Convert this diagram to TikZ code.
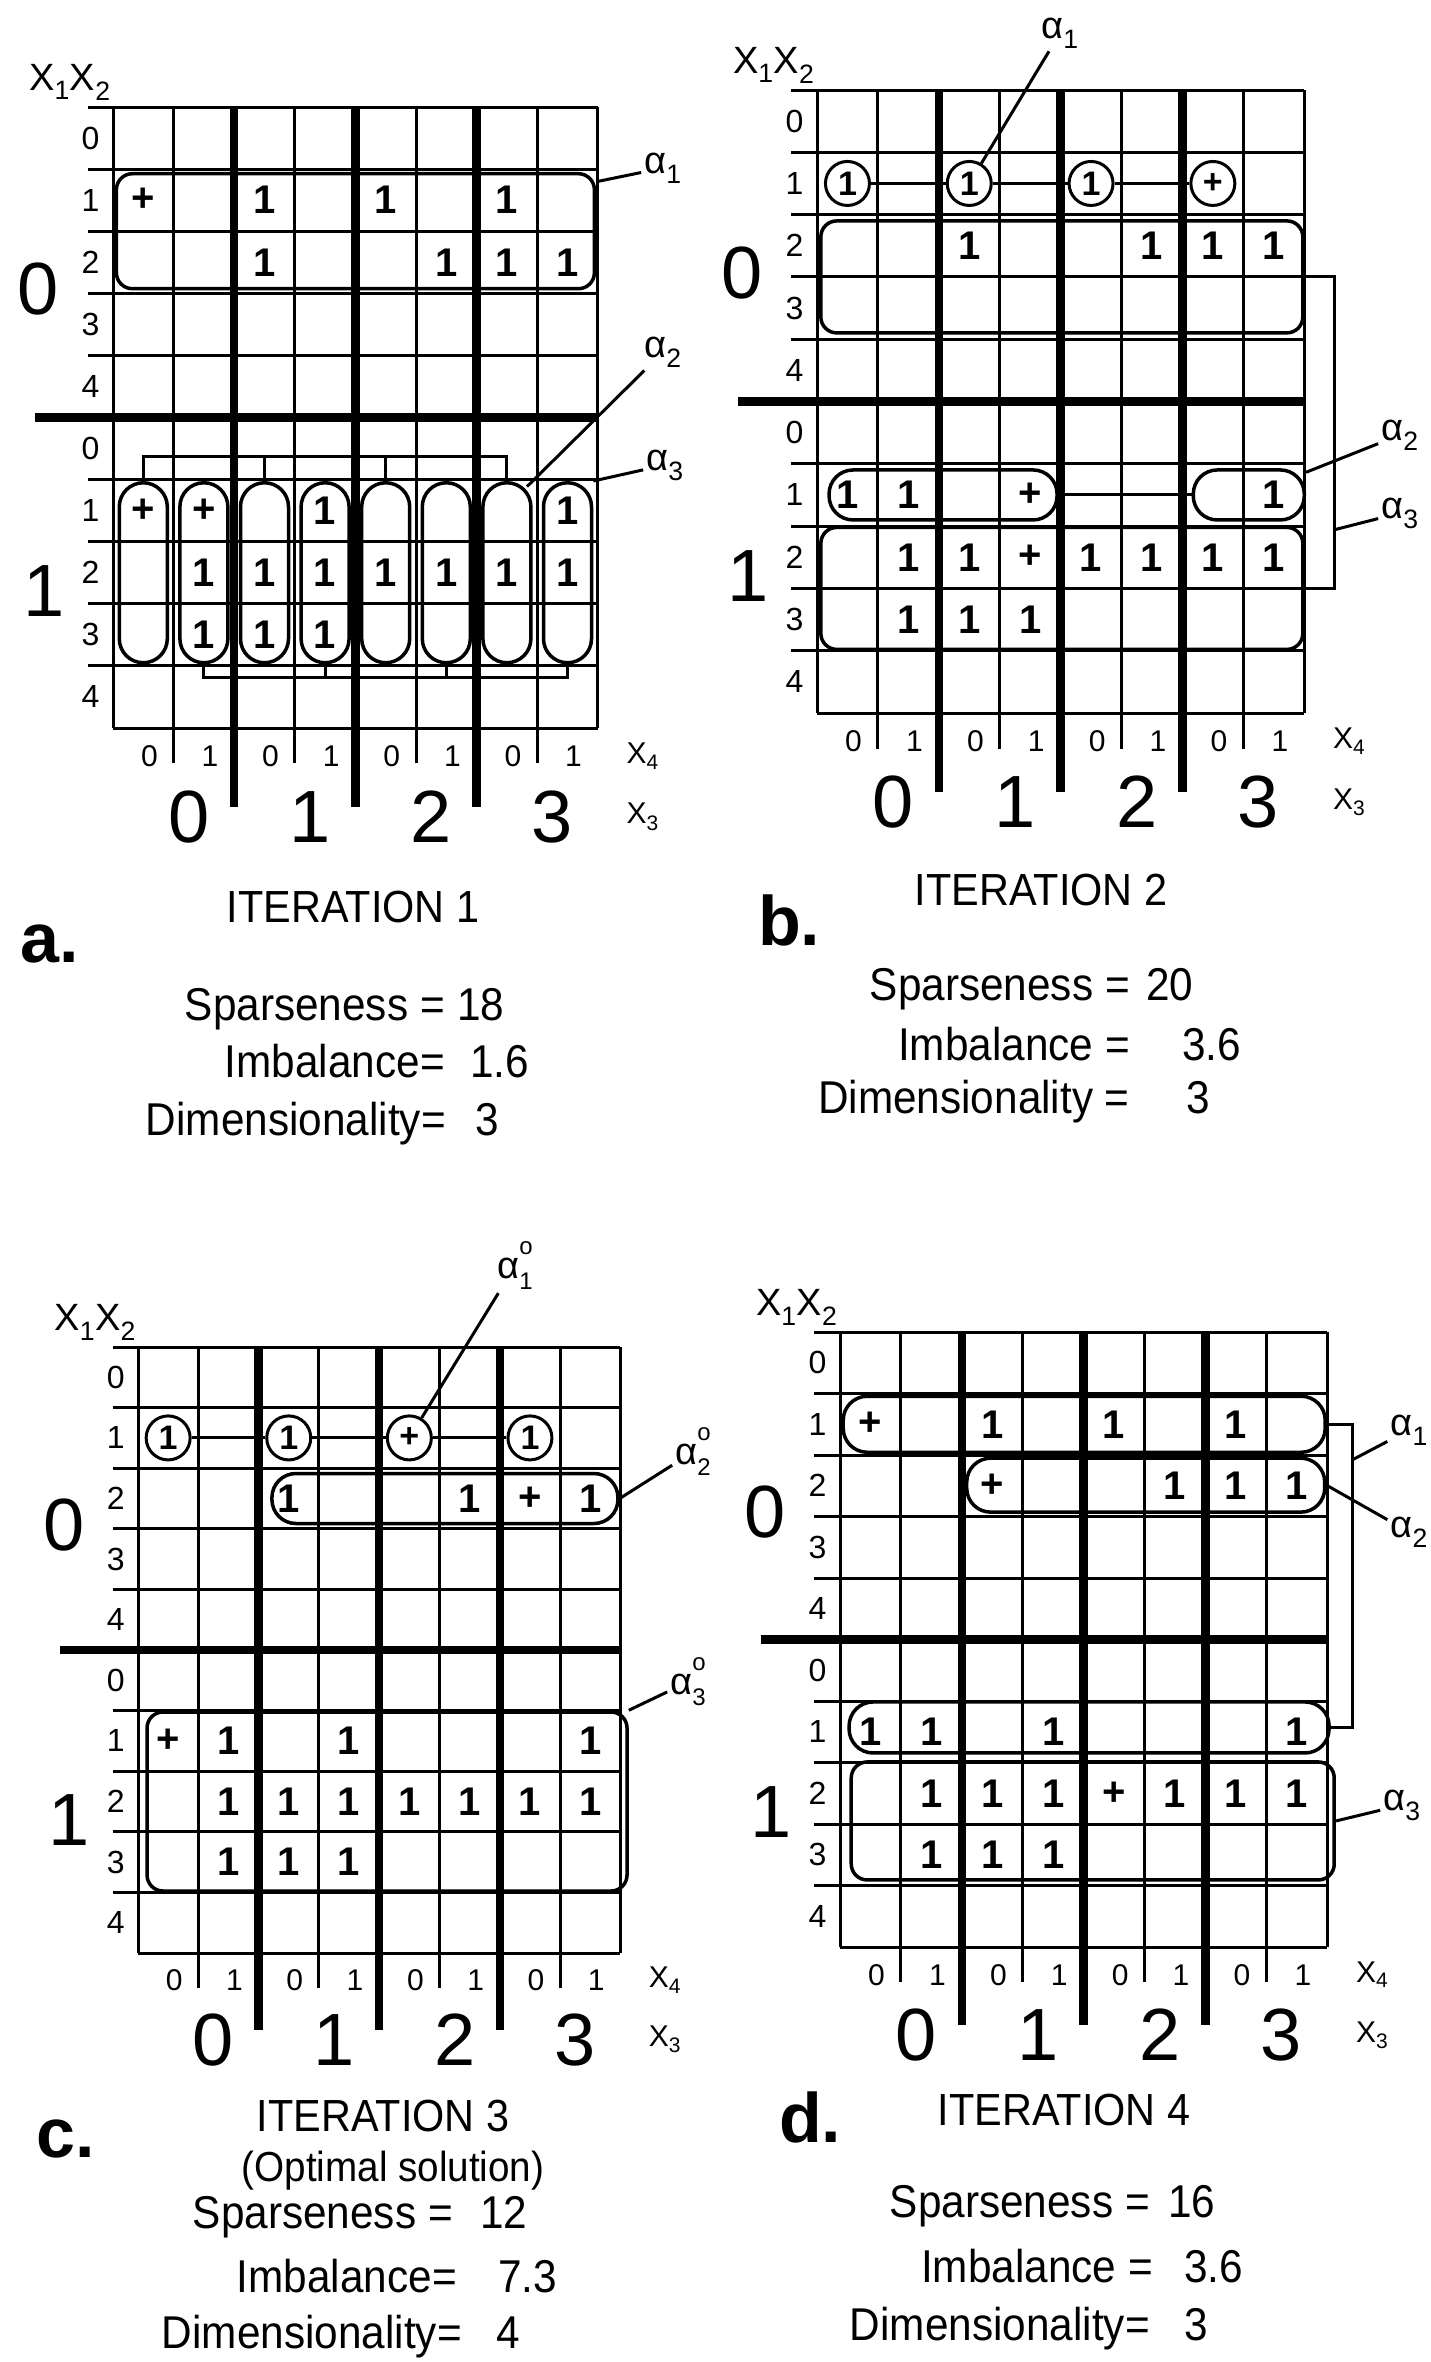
\documentclass[tikz,border=0pt]{standalone}
\usepackage{fontspec}
\setmainfont{Liberation Sans}
\newfontfamily\statfont[FakeStretch=0.92]{Liberation Sans}

\newcommand\kmap[1]{%
  \foreach \cc in {0,...,8} \draw [gridline] (\cc,0) -- (\cc,10);
  \foreach \rr in {0,1,2,3,4,6,7,8,9} \draw [gridline] (-.42,\rr) -- (8,\rr);
  \draw [gridline] (0,10) -- (8,10);
  \foreach \cc in {1,3,5,7} \draw [gridline] (\cc,10) -- (\cc,10.57);
  \foreach \cc in {2,4,6} \draw [thickline] (\cc,0) -- (\cc,11.27);
  \draw [thickline] (-1.29,5) -- (8,5);
  \foreach \rr in {0,...,4} {
    \node [rowlab] (#1-r0\rr) at (-.37,\rr+.5) {\rr};
    \node [rowlab] (#1-r1\rr) at (-.37,\rr+5.5) {\rr};
  }
  \foreach \cc in {0,...,3} {
    \node [ticklab] (#1-x4-\cc-0) at (2*\cc+.6,10.45) {0};
    \node [ticklab] (#1-x4-\cc-1) at (2*\cc+1.6,10.45) {1};
    \node [bigdigit] (#1-x3-\cc) at (2*\cc+1.25,11.43) {\cc};
  }
  \node [axlab] (#1-x1x2) at (-.71,-.4) {X\textsubscript{1}X\textsubscript{2}};
  \node [axsmall] (#1-x4) at (8.74,10.45) {X\textsubscript{4}};
  \node [axsmall] (#1-x3) at (8.74,11.43) {X\textsubscript{3}};
  \node [bigdigit] (#1-x1o) at (-1.23,2.93) {0};
  \node [bigdigit] (#1-x1i) at (-1.14,7.8) {1};
}
\newcommand\cellmarks[2]{%
  \foreach \cc/\rr/\mm in {#2} \node [cellmark] (#1-\rr-\cc) at (\cc+.5,\rr+.5) {\mm};
}
\newcommand\cellcircs[2]{%
  \foreach \cc/\mm in {#2} \node [circmark] (#1-o\cc) at (\cc+.5,1.5) {\mm};
}
\newcommand\azero[1]{α\rlap{\raisebox{.62em}{\fontsize{24}{24}\selectfont o}}\raisebox{-.3em}{\fontsize{24}{24}\selectfont #1}}

\begin{document}
\begin{tikzpicture}[x=1pt, y=-1pt,
  gridline/.style={line width=3pt},
  thickline/.style={line width=8.5pt},
  rowlab/.style={font=\fontsize{32}{34}\selectfont, inner sep=0pt},
  ticklab/.style={font=\fontsize{30}{32}\selectfont, inner sep=0pt},
  bigdigit/.style={font=\fontsize{74}{78}\selectfont, inner sep=0pt},
  axlab/.style={font=\fontsize{38}{40}\selectfont, inner sep=0pt},
  axsmall/.style={font=\fontsize{30}{32}\selectfont, inner sep=0pt},
  cellmark/.style={font=\bfseries\fontsize{40}{42}\selectfont, inner sep=0pt},
  circmark/.style={draw, circle, line width=3pt, minimum size=44pt, inner sep=0pt, font=\bfseries\fontsize{34}{36}\selectfont},
  loopbox/.style={draw, line width=3.5pt, rounded corners=16pt, inner sep=0pt},
  pill/.style={draw, line width=3.5pt, rounded corners=24pt, inner sep=0pt},
  leader/.style={line width=3pt},
  alab/.style={font=\fontsize{38}{40}\selectfont, inner sep=3pt},
  statname/.style={font=\statfont\fontsize{46}{48}\selectfont, inner sep=0pt, anchor=base east},
  statval/.style={font=\statfont\fontsize{46}{48}\selectfont, inner sep=0pt, anchor=base west},
  itertitle/.style={font=\statfont\fontsize{45}{47}\selectfont, inner sep=0pt, anchor=base},
  panlab/.style={font=\bfseries\fontsize{70}{72}\selectfont, inner sep=0pt, anchor=base west}]
\useasboundingbox (0,0) rectangle (1431,2362);

\begin{scope}[shift={(113,107)}, x=60.6pt, y=-62.1pt]
\kmap{a}
\cellmarks{a}{0/1/+, 2/1/1, 4/1/1, 6/1/1, 2/2/1, 5/2/1, 6/2/1, 7/2/1, 0/6/+, 1/6/+, 3/6/1, 7/6/1, 1/7/1, 2/7/1, 3/7/1, 4/7/1, 5/7/1, 6/7/1, 7/7/1, 1/8/1, 2/8/1, 3/8/1}
\node [loopbox, minimum width=478pt, minimum height=115pt] (a-l1) at (4,2) {};
\foreach \cc in {0,...,7} \node [pill, minimum width=48pt, minimum height=180pt] (a-p\cc) at (\cc+.5,7.5) {};
\coordinate (a-top) at (0,5.62);
\coordinate (a-bot) at (0,9.19);
\end{scope}
\draw [leader] (a-p0.north) |- (a-p6.north |- a-top) -- (a-p6.north);
\foreach \cc in {2,4} \draw [leader] (a-p\cc.north) -- (a-p\cc.north |- a-top);
\draw [leader] (a-p1.south) |- (a-p7.south |- a-bot) -- (a-p7.south);
\foreach \cc in {3,5} \draw [leader] (a-p\cc.south) -- (a-p\cc.south |- a-bot);
\node [alab] (a-la1) at (663,168) {α\textsubscript{1}};
\node [alab] (a-la2) at (663,352) {α\textsubscript{2}};
\node [alab] (a-la3) at (665,465) {α\textsubscript{3}};
\draw [leader] (a-la1) -- (a-l1);
\draw [leader, shorten >=-8pt] (a-la2) -- (a-p6.north east);
\draw [leader] (a-la3) -- (a-p7.north east);
\node [panlab] (a-tag) at (20,962) {a.};
\node [itertitle] (a-it) at (353,922) {ITERATION 1};
\node [statname] (a-sp) at (445,1020) {Sparseness =};
\node [statval] (a-spv) at (457,1020) {18};
\node [statname] (a-im) at (445,1077) {Imbalance=};
\node [statval] (a-imv) at (470,1077) {1.6};
\node [statname] (a-di) at (446,1135) {Dimensionality=};
\node [statval] (a-div) at (475,1135) {3};

\begin{scope}[shift={(817,90)}, x=60.9pt, y=-62.3pt]
\kmap{b}
\cellcircs{b}{0/1, 2/1, 4/1, 6/+}
\cellmarks{b}{2/2/1, 5/2/1, 6/2/1, 7/2/1, 0/6/1, 1/6/1, 3/6/+, 7/6/1, 1/7/1, 2/7/1, 3/7/+, 4/7/1, 5/7/1, 6/7/1, 7/7/1, 1/8/1, 2/8/1, 3/8/1}
\node [loopbox, minimum width=482pt, minimum height=112pt] (b-l3a) at (4.02,3) {};
\node [pill, minimum width=228pt, minimum height=50pt] (b-l2a) at (2.07,6.5) {};
\node [pill, minimum width=111pt, minimum height=50pt] (b-l2b) at (7.09,6.5) {};
\node [loopbox, minimum width=482pt, minimum height=122pt] (b-l3b) at (4.02,8) {};
\coordinate (b-br) at (8.49,0);
\coordinate (b-k) at (8.49,7.06);
\end{scope}
\foreach \cc/\dd in {0/2, 2/4, 4/6} \draw [leader] (b-o\cc) -- (b-o\dd);
\draw [leader] (b-l2a) -- (b-l2b);
\draw [leader] (b-l3a.east) -| (b-br |- b-l3b.east) -- (b-l3b.east);
\node [alab] (b-la1) at (1060,33) {α\textsubscript{1}};
\node [alab] (b-la2) at (1400,435) {α\textsubscript{2}};
\node [alab] (b-la3) at (1400,513) {α\textsubscript{3}};
\draw [leader] (b-la1) -- (b-o2);
\draw [leader] (b-la2) -- (b-l2b);
\draw [leader] (b-la3) -- (b-k);
\node [panlab] (b-tag) at (758,945) {b.};
\node [itertitle] (b-it) at (1041,905) {ITERATION 2};
\node [statname] (b-sp) at (1130,1000) {Sparseness =};
\node [statval] (b-spv) at (1146,1000) {20};
\node [statname] (b-im) at (1130,1060) {Imbalance =};
\node [statval] (b-imv) at (1182,1060) {3.6};
\node [statname] (b-di) at (1130,1113) {Dimensionality =};
\node [statval] (b-div) at (1186,1113) {3};

\begin{scope}[shift={(138,1347)}, x=60.3pt, y=-60.6pt]
\kmap{c}
\cellcircs{c}{0/1, 2/1, 4/+, 6/1}
\cellmarks{c}{2/2/1, 5/2/1, 6/2/+, 7/2/1, 0/6/+, 1/6/1, 3/6/1, 7/6/1, 1/7/1, 2/7/1, 3/7/1, 4/7/1, 5/7/1, 6/7/1, 7/7/1, 1/8/1, 2/8/1, 3/8/1}
\node [pill, minimum width=346pt, minimum height=50pt] (c-l2) at (5.09,2.5) {};
\node [loopbox, minimum width=480pt, minimum height=179pt] (c-l3) at (4.13,7.5) {};
\end{scope}
\foreach \cc/\dd in {0/2, 2/4, 4/6} \draw [leader] (c-o\cc) -- (c-o\dd);
\node [alab] (c-la1) at (515,1266) {\azero{1}};
\node [alab] (c-la2) at (693,1452) {\azero{2}};
\node [alab] (c-la3) at (688,1682) {\azero{3}};
\draw [leader] (c-la1) -- (c-o4);
\draw [leader] (c-la2) -- (c-l2.east);
\draw [leader] (c-la3) -- (c-l3.north east);
\node [panlab] (c-tag) at (36,2157) {c.};
\node [itertitle] (c-it) at (383,2131) {ITERATION 3};
\node [itertitle, font=\statfont\fontsize{42}{44}\selectfont] (c-opt) at (393,2181) {(Optimal solution)};
\node [statname] (c-sp) at (453,2228) {Sparseness =};
\node [statval] (c-spv) at (480,2228) {12};
\node [statname] (c-im) at (457,2292) {Imbalance=};
\node [statval] (c-imv) at (498,2292) {7.3};
\node [statname] (c-di) at (462,2348) {Dimensionality=};
\node [statval] (c-div) at (496,2348) {4};

\begin{scope}[shift={(840,1332)}, x=60.9pt, y=-61.5pt]
\kmap{d}
\cellmarks{d}{0/1/+, 2/1/1, 4/1/1, 6/1/1, 2/2/+, 5/2/1, 6/2/1, 7/2/1, 0/6/1, 1/6/1, 3/6/1, 7/6/1, 1/7/1, 2/7/1, 3/7/1, 4/7/+, 5/7/1, 6/7/1, 7/7/1, 1/8/1, 2/8/1, 3/8/1}
\node [pill, minimum width=482pt, minimum height=56pt] (d-l1a) at (4.01,1.5) {};
\node [pill, minimum width=358pt, minimum height=54pt] (d-l2) at (5.02,2.49) {};
\node [pill, minimum width=480pt, minimum height=51pt] (d-l1b) at (4.09,6.43) {};
\node [loopbox, minimum width=483pt, minimum height=118pt] (d-l3) at (4.15,7.95) {};
\coordinate (d-br) at (8.41,0);
\coordinate (d-k) at (8.41,2.08);
\end{scope}
\draw [leader] (d-l1a.east) -| (d-br |- d-l1b.east) -- (d-l1b.east);
\node [alab, anchor=east] (d-la1) at (1431,1430) {α\textsubscript{1}};
\node [alab, anchor=east] (d-la2) at (1431,1532) {α\textsubscript{2}};
\node [alab] (d-la3) at (1402,1805) {α\textsubscript{3}};
\draw [leader] (d-la1) -- (d-k);
\draw [leader] (d-la2) -- (d-l2.east);
\draw [leader] (d-la3) -- (d-l3.east);
\node [panlab] (d-tag) at (779,2142) {d.};
\node [itertitle] (d-it) at (1064,2125) {ITERATION 4};
\node [statname] (d-sp) at (1150,2217) {Sparseness =};
\node [statval] (d-spv) at (1168,2217) {16};
\node [statname] (d-im) at (1153,2282) {Imbalance =};
\node [statval] (d-imv) at (1184,2282) {3.6};
\node [statname] (d-di) at (1150,2340) {Dimensionality=};
\node [statval] (d-div) at (1184,2340) {3};
\end{tikzpicture}
\end{document}
